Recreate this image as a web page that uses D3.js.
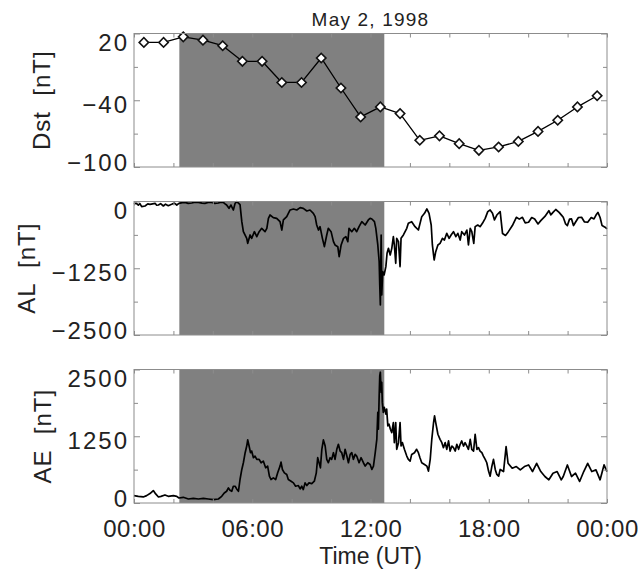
<!DOCTYPE html>
<html>
<head>
<meta charset="utf-8">
<script src="https://cdn.jsdelivr.net/npm/d3@7"></script>
<style>
  body { margin: 0; background: #fff; }
  svg { display: block; }
</style>
</head>
<body>
<svg id="chart"></svg>
<script>
// values (time in hours UT, value in nT)
const dstHour = [0.5, 1.5, 2.5, 3.5, 4.5, 5.5, 6.5, 7.5, 8.5, 9.5, 10.5, 11.5,
                 12.5, 13.5, 14.5, 15.5, 16.5, 17.5, 18.5, 19.5, 20.5, 21.5, 22.5, 23.5];
const dstValue = [12, 12, 17, 14, 9, -5, -5, -24, -24, -2, -29, -55,
                  -46, -52, -76, -72, -79, -85, -82, -77, -68, -58, -46, -36];

const alData = [
  [0, -53], [0.1, -30], [0.22, -66], [0.3, -40], [0.39, -97], [0.56, -84], [0.7, -45], [0.81, -53],
  [1.07, -34], [1.15, -70], [1.24, -66], [1.35, -40], [1.49, -84], [1.6, -50], [1.74, -78], [1.91, -53],
  [2.05, -30], [2.17, -66], [2.28, -34], [2.45, -20], [2.59, -16], [2.75, -35], [2.93, -28], [3.1, -12],
  [3.27, -16], [3.45, -30], [3.6, -34], [3.8, -14], [3.94, -16], [4.1, -35], [4.28, -28], [4.4, -12],
  [4.53, -16], [4.62, -45], [4.7, -66], [4.82, -128], [4.92, -66], [5.04, -159], [5.13, -35], [5.22, -3],
  [5.38, -60], [5.47, -378], [5.55, -565], [5.72, -690], [5.77, -783], [5.89, -627], [5.97, -690],
  [6.11, -565], [6.23, -658], [6.35, -565], [6.48, -502], [6.65, -565], [6.74, -502], [6.82, -315],
  [6.9, -253], [7.07, -303], [7.24, -315], [7.41, -378], [7.5, -534], [7.58, -346], [7.75, -284],
  [7.92, -159], [8.09, -140], [8.26, -159], [8.43, -115], [8.59, -128], [8.77, -178], [8.93, -159],
  [9.1, -221], [9.19, -284], [9.27, -440], [9.36, -534], [9.44, -471], [9.56, -690], [9.66, -846],
  [9.78, -627], [9.86, -502], [10.0, -565], [10.12, -752], [10.2, -814], [10.34, -846], [10.41, -1033],
  [10.51, -814], [10.63, -690], [10.75, -658], [10.85, -752], [10.91, -502], [11.05, -565], [11.18, -502],
  [11.3, -565], [11.42, -471], [11.56, -378], [11.73, -440], [11.89, -346], [11.98, -315], [12.07, -328],
  [12.2, -378], [12.27, -502], [12.37, -814], [12.44, -1126], [12.47, -1563], [12.5, -1937], [12.54, -627],
  [12.57, -1750], [12.62, -1314], [12.69, -1376], [12.78, -1220], [12.84, -970], [12.91, -877],
  [13.0, -1001], [13.08, -877], [13.16, -658], [13.21, -814], [13.28, -1157], [13.33, -690], [13.42, -752],
  [13.5, -1220], [13.55, -690], [13.67, -627], [13.84, -502], [13.92, -409], [14.09, -378], [14.26, -471],
  [14.43, -534], [14.6, -284], [14.74, -221], [14.86, -140], [14.97, -221], [15.08, -440], [15.14, -814],
  [15.23, -1095], [15.31, -939], [15.42, -814], [15.53, -783], [15.65, -690], [15.75, -721], [15.87, -596],
  [15.99, -690], [16.09, -627], [16.21, -565], [16.33, -658], [16.43, -596], [16.55, -721], [16.63, -565],
  [16.77, -627], [16.89, -534], [16.97, -814], [17.06, -502], [17.14, -565], [17.24, -783], [17.31, -471],
  [17.44, -440], [17.56, -471], [17.68, -409], [17.82, -315], [17.95, -190], [18.07, -159], [18.19, -221],
  [18.29, -346], [18.41, -253], [18.58, -190], [18.7, -600], [18.85, -636], [18.98, -574], [19.2, -450],
  [19.4, -296], [19.55, -330], [19.71, -296], [19.85, -400], [20.02, -389], [20.18, -300], [20.33, -327],
  [20.5, -420], [20.64, -358], [20.85, -280], [21.05, -173], [21.15, -250], [21.26, -204], [21.4, -150],
  [21.57, -204], [21.7, -260], [21.78, -296], [21.9, -420], [21.99, -451], [22.1, -330], [22.2, -327],
  [22.3, -450], [22.4, -389], [22.55, -300], [22.71, -296], [22.85, -380], [23.02, -389], [23.2, -300],
  [23.34, -327], [23.45, -250], [23.54, -204], [23.65, -300], [23.75, -451], [23.9, -480], [24.0, -512]
];

const aeData = [
  [0, 138], [0.22, 125], [0.47, 113], [0.64, 138], [0.81, 176], [0.98, 232], [1.1, 170], [1.24, 113],
  [1.37, 125], [1.57, 151], [1.74, 125], [2.0, 138], [2.17, 125], [2.28, 94], [2.5, 107], [2.76, 75],
  [3.01, 88], [3.27, 75], [3.52, 88], [3.77, 75], [4.03, 63], [4.28, 75], [4.45, 125], [4.58, 188],
  [4.7, 220], [4.79, 283], [4.87, 239], [4.96, 220], [5.04, 314], [5.13, 314], [5.21, 264], [5.3, 220],
  [5.38, 440], [5.47, 628], [5.55, 754], [5.64, 942], [5.72, 1067], [5.77, 1181], [5.84, 1067],
  [5.91, 942], [5.97, 973], [6.06, 848], [6.14, 879], [6.23, 817], [6.35, 817], [6.45, 754], [6.56, 785],
  [6.68, 659], [6.78, 691], [6.87, 502], [6.95, 440], [7.07, 471], [7.19, 440], [7.29, 565], [7.41, 691],
  [7.46, 766], [7.53, 628], [7.63, 565], [7.75, 534], [7.83, 440], [7.97, 408], [8.09, 377], [8.2, 314],
  [8.34, 327], [8.43, 264], [8.51, 314], [8.59, 251], [8.68, 377], [8.77, 327], [8.88, 377], [9.02, 364],
  [9.15, 408], [9.25, 565], [9.32, 848], [9.39, 754], [9.46, 659], [9.53, 1005], [9.61, 1181], [9.7, 1067],
  [9.78, 817], [9.86, 754], [9.95, 848], [10.03, 817], [10.12, 942], [10.2, 817], [10.29, 1005],
  [10.37, 1099], [10.46, 973], [10.54, 942], [10.63, 817], [10.71, 1005], [10.8, 879], [10.88, 754],
  [10.97, 910], [11.05, 942], [11.13, 817], [11.22, 910], [11.3, 879], [11.42, 754], [11.52, 848],
  [11.64, 754], [11.73, 691], [11.86, 754], [11.98, 722], [12.07, 628], [12.15, 691], [12.24, 942],
  [12.32, 1193], [12.37, 1696], [12.4, 1381], [12.44, 2010], [12.47, 2386], [12.5, 2449], [12.54, 2072],
  [12.57, 2261], [12.6, 1884], [12.65, 1696], [12.7, 1790], [12.78, 1664], [12.82, 1758], [12.88, 1444],
  [12.94, 1476], [13.01, 1381], [13.08, 1319], [13.16, 1507], [13.21, 1130], [13.28, 1507], [13.33, 1005],
  [13.42, 1130], [13.5, 1507], [13.55, 1067], [13.62, 1130], [13.72, 1005], [13.84, 879], [13.92, 817],
  [14.01, 785], [14.09, 910], [14.23, 942], [14.34, 1005], [14.43, 942], [14.51, 848], [14.6, 754],
  [14.74, 722], [14.86, 691], [14.94, 597], [15.03, 817], [15.11, 1193], [15.2, 1507], [15.25, 1633],
  [15.31, 1507], [15.42, 1287], [15.53, 1193], [15.62, 1130], [15.7, 1036], [15.79, 1130], [15.87, 1005],
  [15.96, 1162], [16.04, 973], [16.13, 1067], [16.21, 1036], [16.3, 973], [16.38, 1099], [16.47, 1005],
  [16.55, 1099], [16.63, 1162], [16.72, 1067], [16.8, 1130], [16.89, 1067], [16.97, 1005], [17.06, 1193],
  [17.14, 1005], [17.23, 973], [17.31, 1287], [17.4, 1005], [17.48, 1036], [17.56, 973], [17.65, 942],
  [17.73, 879], [17.82, 817], [17.9, 754], [17.99, 597], [18.07, 502], [18.16, 691], [18.24, 817],
  [18.33, 628], [18.41, 534], [18.5, 502], [18.58, 628], [18.75, 589], [18.88, 1055], [18.98, 744],
  [19.19, 651], [19.4, 682], [19.6, 620], [19.81, 682], [20.02, 713], [20.22, 589], [20.43, 744],
  [20.64, 589], [20.85, 496], [21.05, 434], [21.26, 558], [21.47, 589], [21.68, 434], [21.78, 496],
  [21.99, 713], [22.2, 496], [22.4, 558], [22.61, 403], [22.82, 589], [23.02, 744], [23.23, 589],
  [23.44, 620], [23.65, 434], [23.85, 713], [24.0, 589]
];

// shaded interval (hours UT)
const shadedInterval = [2.3, 12.7];

// axis ticks
const xTickHours = [0, 6, 12, 18, 24];
const xTickLabels = ["00:00", "06:00", "12:00", "18:00", "00:00"];
const xMinorHours = [2, 4, 8, 10, 14, 16, 20, 22];

const dstTicks = [20, -40, -100], dstMinor = [-10, -70];
const alTicks = [0, -1250, -2500], alMinor = [-625, -1875];
const aeTicks = [2500, 1250, 0], aeMinor = [1875, 625];

const FONT = "'Liberation Sans', Arial, Helvetica, sans-serif";
const frameColor = "#8c8c8c";

// IDL-like labels with a real minus sign
const yFormat = d => d < 0 ? "\u2212" + Math.abs(d) : String(d);

class StackPanel {

  constructor(_config, _data) {
    this.config = {
      parentElement: _config.parentElement,
      top: _config.top,
      left: 134,
      width: 473,
      height: 133.5,
      domain: _config.domain,
      ticks: _config.ticks,
      minor: _config.minor,
      yTitle: _config.yTitle,
      xLabels: _config.xLabels || false,
      diamonds: _config.diamonds || false
    }
    this.data = _data;
    this.initVis();
  }

  initVis() {
    let vis = this;
    let w = vis.config.width, h = vis.config.height;

    vis.chart = d3.select(vis.config.parentElement).append('g')
      .attr('transform', `translate(${vis.config.left},${vis.config.top})`);

    vis.xScale = d3.scaleLinear().domain([0, 24]).range([0, w]);
    vis.yScale = d3.scaleLinear().domain(d3.extent(vis.config.domain)).range([h, 0]);

    vis.chart.append('rect')
      .attr('x', vis.xScale(shadedInterval[0]))
      .attr('width', vis.xScale(shadedInterval[1]) - vis.xScale(shadedInterval[0]))
      .attr('height', h)
      .attr('fill', '#808080');

    vis.line = d3.line()
      .x(d => vis.xScale(d[0]))
      .y(d => vis.yScale(d[1]));

    vis.chart.append('path')
      .datum(vis.data)
      .attr('d', vis.line)
      .attr('fill', 'none')
      .attr('stroke', '#000')
      .attr('stroke-width', vis.config.diamonds ? 1.3 : 1.7)
      .attr('stroke-linejoin', 'round');

    if (vis.config.diamonds) {
      vis.chart.selectAll('.marker')
        .data(vis.data)
        .join('path')
          .attr('class', 'marker')
          .attr('d', d3.symbol(d3.symbolSquare, 44))
          .attr('transform', d => `translate(${vis.xScale(d[0])},${vis.yScale(d[1])}) rotate(45)`)
          .attr('fill', '#fff')
          .attr('stroke', '#111')
          .attr('stroke-width', 1.6);
    }

    vis.chart.append('rect')
      .attr('width', w).attr('height', h)
      .attr('fill', 'none')
      .attr('stroke', frameColor)
      .attr('stroke-width', 1);

    // inward ticks on all four sides
    vis.tickGroup(d3.axisLeft(vis.yScale).tickValues(vis.config.minor).tickSize(-4).tickFormat(''), 0, 0);
    vis.tickGroup(d3.axisRight(vis.yScale).tickValues(vis.config.minor).tickSize(-4).tickFormat(''), w, 0);
    vis.tickGroup(d3.axisRight(vis.yScale).tickValues(vis.config.ticks).tickSize(-6).tickFormat(''), w, 0);
    vis.tickGroup(d3.axisTop(vis.xScale).tickValues(xMinorHours.concat(xTickHours)).tickSize(-4).tickFormat(''), 0, 0);
    vis.tickGroup(d3.axisBottom(vis.xScale).tickValues(xMinorHours.concat(xTickHours)).tickSize(-4).tickFormat(''), 0, h);

    vis.yAxisG = vis.tickGroup(d3.axisLeft(vis.yScale)
      .tickValues(vis.config.ticks).tickSize(-6).tickPadding(5)
      .tickFormat(yFormat), 0, 0);

    vis.yAxisG.selectAll('text')
      .attr('dy', null)
      .style('letter-spacing', '2px')
      .attr('y', d => {
        let py = vis.yScale(d);
        if (py < 1) return 16.5;
        if (py > h - 1) return 3;
        return 12;
      });

    let bb = vis.yAxisG.node().getBBox();
    vis.chart.append('text')
      .attr('transform', `translate(${bb.x - 17},${h / 2}) rotate(-90)`)
      .attr('text-anchor', 'middle')
      .style('font-family', FONT)
      .style('font-size', '24px')
      .style('letter-spacing', '1px')
      .style('white-space', 'pre')
      .attr('fill', '#222')
      .text(vis.config.yTitle);

    if (vis.config.xLabels) {
      let xg = vis.tickGroup(d3.axisBottom(vis.xScale)
        .tickValues(xTickHours).tickSize(0)
        .tickFormat((d, i) => xTickLabels[i]), 0, h);
      xg.selectAll('text')
        .attr('dy', null)
        .attr('y', 34)
        .style('letter-spacing', '0.5px');
    }
  }

  tickGroup(axis, tx, ty) {
    let vis = this;
    let g = vis.chart.append('g')
      .attr('transform', `translate(${tx},${ty})`)
      .call(axis);
    g.select('.domain').remove();
    g.selectAll('.tick line').attr('stroke', frameColor);
    g.selectAll('text')
      .attr('fill', '#222')
      .style('font-family', FONT)
      .style('font-size', '24px')
      .style('letter-spacing', '1px');
    return g;
  }
}

const svg = d3.select('#chart').attr('width', 638).attr('height', 572);

new StackPanel({ parentElement: '#chart', top: 33.5, domain: [-100, 20], ticks: dstTicks,
  minor: dstMinor, yTitle: 'Dst  [nT]', diamonds: true }, dstHour.map((t, i) => [t, dstValue[i]]));
new StackPanel({ parentElement: '#chart', top: 201.5, domain: [-2500, 0], ticks: alTicks,
  minor: alMinor, yTitle: 'AL  [nT]' }, alData);
new StackPanel({ parentElement: '#chart', top: 369.5, domain: [0, 2500], ticks: aeTicks,
  minor: aeMinor, yTitle: 'AE  [nT]', xLabels: true }, aeData);

svg.append('text')
  .attr('x', 134 + 473 / 2)
  .attr('y', 26)
  .attr('text-anchor', 'middle')
  .style('font-family', FONT)
  .style('font-size', '19px')
  .style('letter-spacing', '1.2px')
  .attr('fill', '#222')
  .text('May 2, 1998');

svg.append('text')
  .attr('x', 134 + 473 / 2)
  .attr('y', 564)
  .attr('text-anchor', 'middle')
  .style('font-family', FONT)
  .style('font-size', '23px')
  .attr('fill', '#222')
  .text('Time (UT)');
</script>
</body>
</html>
